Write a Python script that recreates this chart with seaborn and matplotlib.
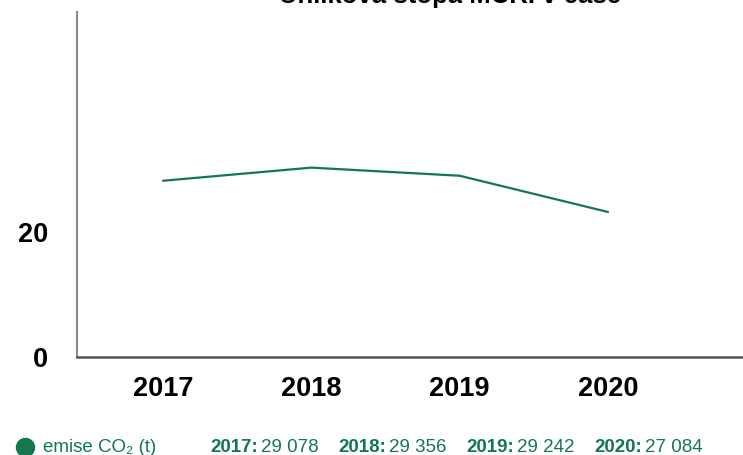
import matplotlib
matplotlib.use('Agg')
import matplotlib.pyplot as plt
import seaborn as sns
import pandas as pd

# values (thousands of tonnes)
years = [2017, 2018, 2019, 2020]
emissions = [28.2, 30.3, 29.0, 23.2]
y_ticks = [0, 20]
title = 'Uhlíková stopa MČRI v čase'
series_label = 'emise CO₂ (t)'
legend_years = ['2017:', '2018:', '2019:', '2020:']
legend_values = ['29 078', '29 356', '29 242', '27 084']

green = '#14784f'

sns.set_style('white')
plt.rcParams['font.family'] = ['Liberation Sans', 'DejaVu Sans']

df = pd.DataFrame({'year': years, 'emise': emissions})

W, H = 743, 455
fig = plt.figure(figsize=(W / 100, H / 100), dpi=100)
ax = fig.add_axes([77 / W, 1 - 357 / H, 1 - 77 / W, (357 - 12) / H])

sns.lineplot(data=df, x='year', y='emise', color=green, linewidth=1.6, ax=ax)

ax.set_xlim(2016.42, 2020.91)
ax.set_ylim(0, 55.2)
ax.set_xticks(years)
ax.set_xticklabels([str(y) for y in years])
ax.set_yticks(y_ticks)
ax.set_yticklabels([str(t) for t in y_ticks])
ax.tick_params(axis='x', length=0, pad=14, labelsize=19.5, labelcolor='black')
ax.tick_params(axis='y', length=0, pad=21, labelsize=19.5, labelcolor='black')
for lab in ax.get_xticklabels() + ax.get_yticklabels():
    lab.set_fontweight('bold')
ax.set_xlabel('')
ax.set_ylabel('')
sns.despine(ax=ax)
ax.spines['left'].set_color('#8a8a8a')
ax.spines['left'].set_linewidth(1.5)
ax.spines['bottom'].set_color('#555555')
ax.spines['bottom'].set_linewidth(1.8)
ax.grid(False)

# title, mostly cut off at the top edge
fig.text(450 / W, 1 - 3 / H, title, ha='center', va='baseline',
         fontsize=18.5, fontweight='bold', color='black')

# legend row
ly = 1 - 447 / H
fig.add_artist(plt.Line2D([25 / W], [ly], marker='o', markersize=13,
                          color=green, linestyle='none',
                          transform=fig.transFigure))
fig.text(43 / W, ly, series_label, ha='left', va='center', fontsize=13.5,
         color=green)
for i, (yr, val) in enumerate(zip(legend_years, legend_values)):
    x0 = 210 + i * 128
    t = fig.text(x0 / W, ly, yr, ha='left', va='center', fontsize=13.5,
                 fontweight='bold', color=green)
    fig.canvas.draw()
    ax.annotate(val, xy=(1, 0.5), xycoords=t, xytext=(2, 0),
                textcoords='offset points', ha='left', va='center',
                fontsize=13.5, color=green, annotation_clip=False)

fig.savefig('out.png', dpi=100)
